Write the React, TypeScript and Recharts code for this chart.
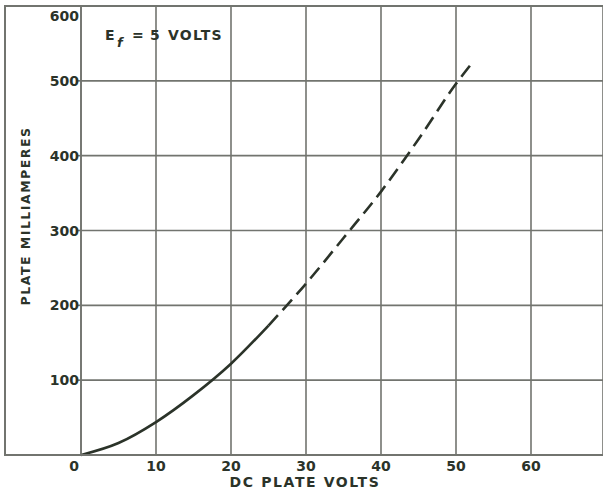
import React from 'react';
import { LineChart, Line, XAxis, YAxis, CartesianGrid } from 'recharts';

// Plate characteristic, filament voltage Ef = 5 V
const voltsSolid = [0, 5, 10, 15, 20, 25];
const maSolid = [0, 16, 44, 80, 122, 173];
const voltsDashed = [25, 30, 35, 40, 45, 50, 52];
const maDashed = [173, 229, 290, 352, 422, 496, 522];

const xTicks = [0, 10, 20, 30, 40, 50, 60];
const yTicks = [0, 100, 200, 300, 400, 500, 600];

const xTitle = 'DC PLATE VOLTS';
const yTitle = 'PLATE MILLIAMPERES';
const noteE = 'E';
const noteSub = 'f';
const noteEq = '=';
const noteNum = '5';
const noteUnit = 'VOLTS';

const solidData = voltsSolid.map((v, i) => ({ v, ma: maSolid[i] }));
const dashedData = voltsDashed.map((v, i) => ({ v, ma: maDashed[i] }));

const INK = '#2b3329';
const GRID = '#72746f';
const FONT = '"DejaVu Sans", sans-serif';

const XTick = (props: any) => {
  const { x, payload } = props;
  const shift = payload.value === 0 ? -7 : 0;
  return (
    <text x={x + shift} y={471} textAnchor="middle" fontFamily={FONT} fontWeight="bold" fontSize={14} fill={INK}>
      {payload.value}
    </text>
  );
};

const YTick = (props: any) => {
  const { y, payload } = props;
  if (payload.value === 0) return <g />;
  const dy = payload.value === 600 ? 15 : 5;
  return (
    <text x={79} y={y + dy} textAnchor="end" fontFamily={FONT} fontWeight="bold" fontSize={14} fill={INK}>
      {payload.value}
    </text>
  );
};

export default function App() {
  return (
    <div style={{ position: 'absolute', left: 0, top: 0, width: 603, height: 490, background: '#fff' }}>
      <div
        style={{
          position: 'absolute',
          left: 4,
          top: 5,
          width: 599,
          height: 451,
          boxSizing: 'border-box',
          borderLeft: `2px solid ${GRID}`,
          borderTop: `2px solid ${GRID}`,
          borderBottom: `2px solid ${GRID}`,
        }}
      />
      <div style={{ position: 'absolute', left: 0, top: 0 }}>
        <LineChart width={603} height={490} margin={{ top: 6, right: 0, bottom: 0, left: 0 }}>
          <CartesianGrid stroke={GRID} strokeWidth={1.6} />
          <XAxis
            type="number"
            dataKey="v"
            domain={[0, 69.6]}
            ticks={xTicks}
            allowDataOverflow
            height={35}
            tickLine={false}
            axisLine={{ stroke: GRID, strokeWidth: 2 }}
            tick={<XTick />}
            interval={0}
          />
          <YAxis
            type="number"
            dataKey="ma"
            domain={[0, 600]}
            ticks={yTicks}
            width={81}
            tickLine={{ stroke: GRID, strokeWidth: 1.6 }}
            tickSize={3}
            axisLine={{ stroke: GRID, strokeWidth: 1.6 }}
            tick={<YTick />}
            interval={0}
          />
          <Line
            data={solidData}
            dataKey="ma"
            type="monotone"
            stroke={INK}
            strokeWidth={2.6}
            dot={false}
            isAnimationActive={false}
          />
          <Line
            data={dashedData}
            dataKey="ma"
            type="monotone"
            stroke={INK}
            strokeWidth={2.6}
            strokeDasharray="14 7"
            dot={false}
            isAnimationActive={false}
          />
          <text x={305} y={487} textAnchor="middle" fontFamily={FONT} fontWeight="bold" fontSize={14} letterSpacing={1.6} fill={INK}>
            {xTitle}
          </text>
          <text
            x={30}
            y={216}
            textAnchor="middle"
            fontFamily={FONT}
            fontWeight="bold"
            fontSize={12.5}
            letterSpacing={1.5}
            fill={INK}
            transform="rotate(-90 30 216)"
          >
            {yTitle}
          </text>
          <text fontFamily={FONT} fontWeight="bold" fontSize={14} fill={INK}>
            <tspan x={105} y={40}>{noteE}</tspan>
            <tspan x={117} y={47} fontSize={13} fontStyle="italic">{noteSub}</tspan>
            <tspan x={132} y={40}>{noteEq}</tspan>
            <tspan x={150} y={40}>{noteNum}</tspan>
            <tspan x={168} y={40} letterSpacing={1.2}>{noteUnit}</tspan>
          </text>
        </LineChart>
      </div>
    </div>
  );
}
